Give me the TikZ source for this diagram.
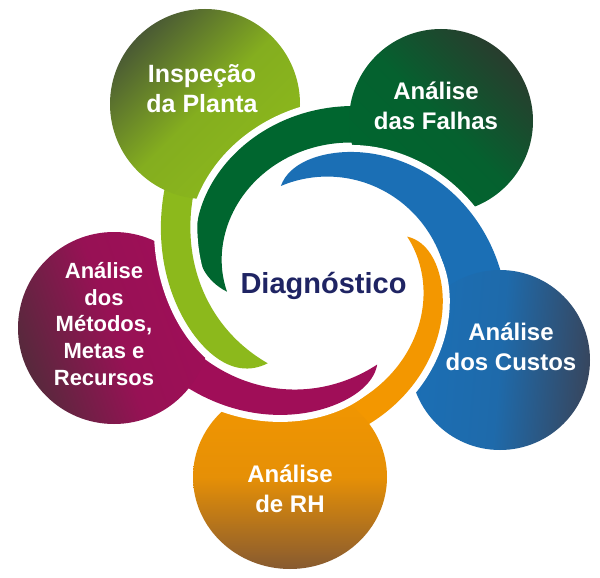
\documentclass[tikz,border=0pt]{standalone}
\usepackage{fontspec}
\setmainfont{Liberation Sans}
\definecolor{cOl}{HTML}{8CB91C}
\definecolor{cOlD}{HTML}{4A5A34}
\definecolor{cDg}{HTML}{00662F}
\definecolor{cDgD}{HTML}{283D2E}
\definecolor{cBl}{HTML}{1B6FB5}
\definecolor{cBlD}{HTML}{37465E}
\definecolor{cOr}{HTML}{F39700}
\definecolor{cOrD}{HTML}{875A30}
\definecolor{cMa}{HTML}{A00E58}
\definecolor{cMaD}{HTML}{57293C}
\definecolor{cNavy}{HTML}{1F2463}
\newcommand\tailpath[4]{plot[domain=0:#2,samples=90,variable=\x] ({325+(#3(\x)+#4(\x))*cos(#1+\x)},{290+(#3(\x)+#4(\x))*sin(#1+\x)}) -- plot[domain=#2:0,samples=90,variable=\x] ({325+#3(\x)*cos(#1+\x)},{290+#3(\x)*sin(#1+\x)}) -- cycle}
\begin{document}
\begin{tikzpicture}[x=1pt,y=-1pt,
  declare function={
    rol(\x)=93+0.234*\x+0.00634*\x*\x;
    wol(\x)=32*(1-exp(-\x/10));
    rdg(\x)=98+0.568*\x-0.000549*\x*\x;
    wdg(\x)=32*(1-exp(-\x/12))+0.05*\x;
    rbl(\x)=113+0.0008*\x*\x;
    wbl(\x)=14*(1-exp(-\x/8))+0.38*\x;
    ror(\x)=98+0.0144*(\x/10)*(\x/10)*(\x/10);
    wor(\x)=16*(1-exp(-\x/10))+0.1*\x;
    rma(\x)=91-0.05*\x+0.0058*\x*\x;
    wma(\x)=14*(1-exp(-\x/10))+0.24*\x;
  },
  gap/.style={draw=white,line width=14pt,line join=round},
  headshade/.style n args={3}{top color=#1,bottom color=#2,middle color=#2!88!#1,shading angle=#3},
  lbl/.style={text=white,font=\fontsize{24}{30}\selectfont\bfseries,align=center},
]
\useasboundingbox[fill=white] (0,0) rectangle (600,578);
% olive petal
\draw[gap] (205,104) circle[radius=95pt];
\draw[gap] \tailpath{128}{95}{rol}{wol};
\fill[cOl] \tailpath{128}{95}{rol}{wol};
\shade[headshade={cOlD}{cOl}{45}] (205,104) circle[radius=95pt];
% dark green petal
\draw[gap] (441,121) circle[radius=92pt];
\draw[gap] \tailpath{179}{115}{rdg}{wdg};
\fill[cDg] \tailpath{179}{115}{rdg}{wdg};
\shade[headshade={cDgD}{cDg}{-45}] (441,121) circle[radius=92pt];
% blue petal
\draw[gap] (500,360) circle[radius=90pt];
\draw[gap] \tailpath{247}{150}{rbl}{wbl};
\fill[cBl] \tailpath{247}{150}{rbl}{wbl};
\shade[headshade={cBlD}{cBl}{-95}] (500,360) circle[radius=90pt];
% orange petal
\draw[gap] (290,477) ellipse[x radius=97pt,y radius=92pt];
\draw[gap] \tailpath{327}{157}{ror}{wor};
\fill[cOr] \tailpath{327}{157}{ror}{wor};
\shade[headshade={cOrD}{cOr}{180}] (290,477) ellipse[x radius=97pt,y radius=92pt];
% maroon petal
\draw[gap] (114,328) circle[radius=96pt];
\draw[gap] \tailpath{55}{110}{rma}{wma};
\fill[cMa] \tailpath{55}{110}{rma}{wma};
\shade[headshade={cMaD}{cMa}{110}] (114,328) circle[radius=96pt];
% olive tail again, over the maroon head
\begin{scope}
\clip (0,215) rectangle (600,578);
\draw[gap] \tailpath{128}{95}{rol}{wol};
\fill[cOl] \tailpath{128}{95}{rol}{wol};
\end{scope}
% labels
\node[lbl,font=\fontsize{25}{30}\selectfont\bfseries] (inspecao) at (202,89) {Inspeção\\da Planta};
\node[lbl] (falhas) at (436,106) {Análise\\das Falhas};
\node[lbl] (custos) at (511,347) {Análise\\dos Custos};
\node[lbl] (rh) at (290,489) {Análise\\de RH};
\node[lbl,font=\fontsize{22}{26.7}\selectfont\bfseries] (metodos) at (104,324) {Análise\\dos\\Métodos,\\Metas e\\Recursos};
\node[text=cNavy,font=\fontsize{29}{34}\selectfont\bfseries,anchor=base] (diag) at (323.5,293) {Diagnóstico};
\end{tikzpicture}
\end{document}
